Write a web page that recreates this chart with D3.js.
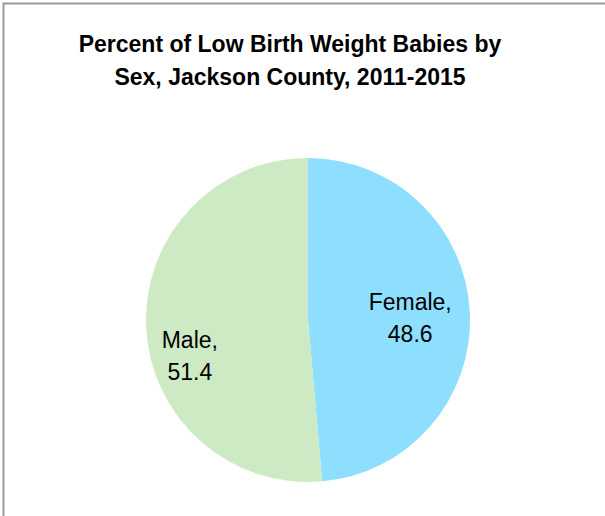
<!DOCTYPE html>
<html>
<head>
<meta charset="utf-8">
<script src="https://cdn.jsdelivr.net/npm/d3@7"></script>
<style>
  body { margin: 0; background: #fff; }
  svg { display: block; }
</style>
</head>
<body>
<svg id="chart" width="605" height="516"></svg>
<script>
// Low birth weight babies by sex, Jackson County 2011-2015
const categories = ["Female", "Male"];
const values = [48.6, 51.4];
const sliceColors = ["#8edffe", "#cdeac4"];
const titleLines = ["Percent of Low Birth Weight Babies by", "Sex, Jackson County, 2011-2015"];

const width = 605;
const height = 516;
const cx = 308;
const cy = 320;
const radius = 162;

const svg = d3.select("#chart");

// outer chart frame (runs off the right/bottom of the crop)
svg.append("rect")
  .attr("x", 3.5)
  .attr("y", 3.5)
  .attr("width", width + 20)
  .attr("height", height + 20)
  .attr("fill", "none")
  .attr("stroke", "#9c9c9c")
  .attr("stroke-width", 2);

svg.append("text")
  .attr("x", 290)
  .attr("y", 52)
  .attr("text-anchor", "middle")
  .style("font-family", "'Liberation Sans', Arial, sans-serif")
  .style("font-weight", "bold")
  .style("font-size", "23px")
  .attr("fill", "#000")
  .selectAll("tspan")
  .data(titleLines)
  .join("tspan")
  .attr("x", 290)
  .attr("dy", (d, i) => (i === 0 ? 0 : 33))
  .text((d) => d);

const data = categories.map((name, i) => ({ name, value: values[i] }));

const pie = d3.pie().sort(null).value((d) => d.value);
const arcs = pie(data);

const arc = d3.arc().innerRadius(0).outerRadius(radius);
const labelArc = d3.arc().innerRadius(radius * 0.65).outerRadius(radius * 0.65);

const color = d3.scaleOrdinal().domain(categories).range(sliceColors);

const g = svg.append("g").attr("transform", `translate(${cx},${cy})`);

g.selectAll("path")
  .data(arcs)
  .join("path")
  .attr("d", arc)
  .attr("fill", (d) => color(d.data.name));

// Excel's best-fit label placement pushes the Male label down a bit
const labelNudge = { Female: [-3, 3], Male: [-13, 31] };

const labels = g.append("g")
  .style("font-family", "'Liberation Sans', Arial, sans-serif")
  .style("font-size", "23px")
  .attr("fill", "#000")
  .attr("text-anchor", "middle")
  .selectAll("text")
  .data(arcs)
  .join("text")
  .attr("transform", (d) => {
    const [x, y] = labelArc.centroid(d);
    const [nx, ny] = labelNudge[d.data.name] || [0, 0];
    return `translate(${x + nx},${y + ny})`;
  });

labels.append("tspan")
  .attr("x", 0)
  .attr("y", -8)
  .text((d) => `${d.data.name},`);

labels.append("tspan")
  .attr("x", 0)
  .attr("y", 24)
  .text((d) => d.data.value.toFixed(1));
</script>
</body>
</html>
